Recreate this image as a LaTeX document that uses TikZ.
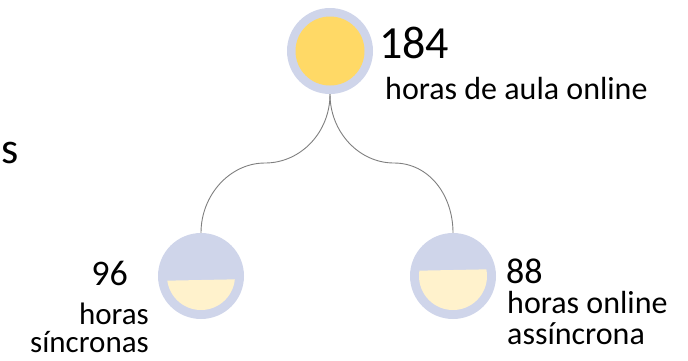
\documentclass[tikz,border=0pt]{standalone}
\usepackage{fontspec}
\setmainfont{Carlito}
\definecolor{lav}{HTML}{CFD5EA}
\definecolor{gold}{HTML}{FFD966}
\definecolor{cream}{HTML}{FFF2CC}
\definecolor{wire}{HTML}{7F7F7F}
\tikzset{
  disc/.style={circle, fill=lav, minimum size=86pt, inner sep=0pt},
  lbl/.style={inner sep=0pt, text=black},
  link/.style={draw=wire, line width=0.9pt},
}
\begin{document}
\begin{tikzpicture}[x=1pt,y=-1pt]
\useasboundingbox (0,0) rectangle (688,360);
% top circle
\node[disc] (top) at (330,51) {};
\fill[gold] (top.center) circle (34.5);
% bottom-left circle
\node[disc] (left) at (201,276) {};
\begin{scope}
  \clip (150,281) -- (252,279) -- (252,320) -- (150,320) -- cycle;
  \fill[cream] (left.center) circle (34);
\end{scope}
% bottom-right circle
\node[disc] (right) at (453,276) {};
\begin{scope}
  \clip (402,271) -- (504,269) -- (504,320) -- (402,320) -- cycle;
  \fill[cream] (right.center) circle (34);
\end{scope}
% connectors
\draw[link] (top.south) .. controls (330,132) and (301,163) .. (265,163)
  .. controls (230,163) and (201,195) .. (left.north);
\draw[link] (top.south) .. controls (330,132) and (359,163) .. (394,163)
  .. controls (429,163) and (453,195) .. (right.north);
% labels
\node[lbl, anchor=base west, font=\fontsize{46}{46}\selectfont] (n184) at (379,58) {184};
\node[lbl, anchor=base west, font=\fontsize{32}{32}\selectfont] (t184) at (385,99) {horas de aula online};
\node[lbl, anchor=base west, font=\fontsize{44}{44}\selectfont] (frag) at (1,163) {s};
\node[lbl, anchor=base east, font=\fontsize{36}{36}\selectfont] (n96) at (128,285) {96};
\node[lbl, anchor=base east, font=\fontsize{31}{31}\selectfont] (t96a) at (149,324) {horas};
\node[lbl, anchor=base east, font=\fontsize{31}{31}\selectfont] (t96b) at (149,352) {síncronas};
\node[lbl, anchor=base west, font=\fontsize{36}{36}\selectfont] (n88) at (506,283) {88};
\node[lbl, anchor=base west, font=\fontsize{32}{32}\selectfont] (t88a) at (507,313) {horas online};
\node[lbl, anchor=base west, font=\fontsize{32}{32}\selectfont] (t88b) at (507,344) {assíncrona};
\end{tikzpicture}
\end{document}
